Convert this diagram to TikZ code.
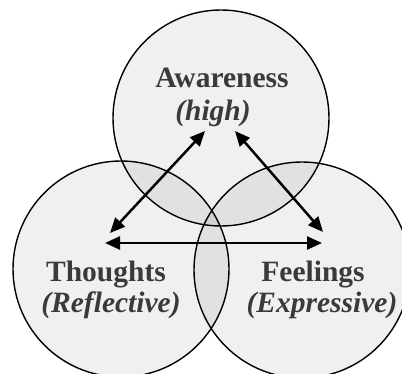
\documentclass[tikz,border=0pt]{standalone}
\usepackage{fontspec}
\setmainfont{Liberation Serif}
\usetikzlibrary{arrows.meta}
\definecolor{txt}{RGB}{58,58,58}
\tikzset{
  circ/.style={draw=black, line width=1.4pt, fill=black, fill opacity=0.06},
  lbl/.style={anchor=base, text=txt, font=\fontsize{29.5}{34}\selectfont\bfseries, inner sep=0pt},
  sub/.style={anchor=base, text=txt, font=\fontsize{29.5}{34}\selectfont\bfseries\itshape, inner sep=0pt},
  dbl/.style={line width=2.5pt, {Triangle[length=15pt,width=13pt]}-{Triangle[length=15pt,width=13pt]}}
}
\begin{document}
\begin{tikzpicture}[x=1pt,y=-1pt]
\useasboundingbox (0,0) rectangle (402,374);
\fill[white] (0,0) rectangle (402,374);
\begin{scope}
\clip (0,0) rectangle (402,374);
\draw[circ] (221,118) circle (108);
\draw[circ] (121,269) circle (108);
\draw[circ] (302,270) circle (108);
\end{scope}
\node[lbl] (aw) at (222,88) {Awareness};
\node[sub] (hi) at (213,121) {(high)};
\node[lbl] (th) at (106,282) {Thoughts};
\node[sub] (re) at (111,313) {(Reflective)};
\node[lbl] (fe) at (313,282) {Feelings};
\node[sub] (ex) at (322,313) {(Expressive)};
\coordinate (a1) at (205,131);
\coordinate (t1) at (110,233);
\coordinate (a2) at (235,131);
\coordinate (f1) at (323,232);
\coordinate (t2) at (105,243);
\coordinate (f2) at (322,243);
\draw[dbl] (a1) -- (t1);
\draw[dbl] (a2) -- (f1);
\draw[dbl] (t2) -- (f2);
\end{tikzpicture}
\end{document}
